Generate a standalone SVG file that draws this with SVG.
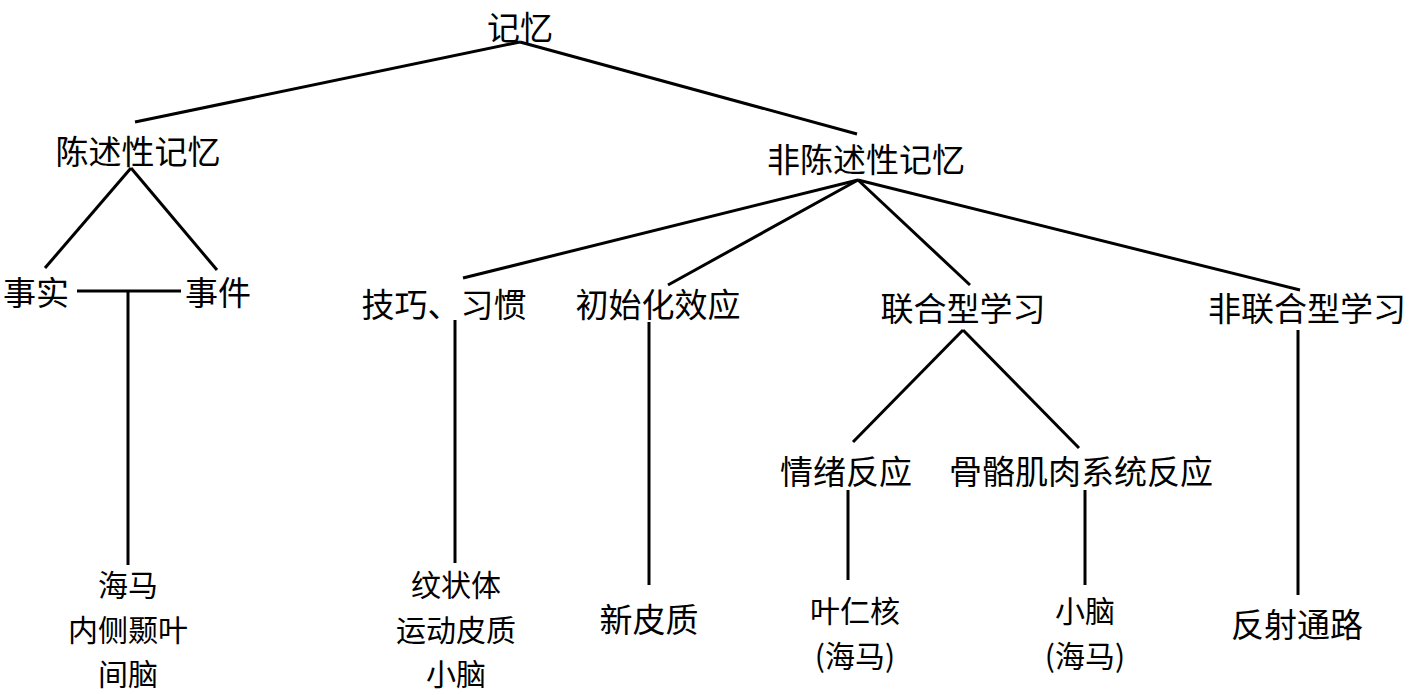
<svg xmlns="http://www.w3.org/2000/svg" width="1417" height="695" viewBox="0 0 1417 695">
<style>
text{font-family:"Noto Sans CJK SC","Liberation Serif",sans-serif;font-size:33px;fill:#000;text-anchor:middle;dominant-baseline:central}
text.m{font-size:30px}
.c line{stroke:#000;stroke-width:3;stroke-linecap:butt}
</style>
<rect width="1417" height="695" fill="#fff"/>
<g class="c" id="connectors">
<line x1="520" y1="42" x2="135" y2="122"/>
<line x1="520" y1="42" x2="857" y2="134"/>
<line x1="131" y1="168" x2="45" y2="268"/>
<line x1="131" y1="168" x2="217" y2="270"/>
<line x1="77" y1="291" x2="181" y2="291"/>
<line x1="128" y1="291" x2="128" y2="565"/>
<line x1="858" y1="180" x2="463" y2="278"/>
<line x1="858" y1="180" x2="668" y2="285"/>
<line x1="858" y1="180" x2="970" y2="285"/>
<line x1="858" y1="180" x2="1300" y2="290"/>
<line x1="455" y1="320" x2="455" y2="563"/>
<line x1="649" y1="322" x2="649" y2="585"/>
<line x1="1298" y1="330" x2="1298" y2="595"/>
<line x1="963" y1="330" x2="853" y2="442"/>
<line x1="963" y1="330" x2="1079" y2="448"/>
<line x1="848" y1="490" x2="848" y2="580"/>
<line x1="1085" y1="490" x2="1085" y2="585"/>
</g>
<g id="n-root"><text x="520" y="26">记忆</text></g>
<g id="n-decl"><text x="138" y="150">陈述性记忆</text></g>
<g id="n-nondecl"><text x="866" y="158">非陈述性记忆</text></g>
<g id="n-fact"><text x="36" y="291">事实</text></g>
<g id="n-event"><text x="218" y="291">事件</text></g>
<g id="n-skill"><text x="444" y="303">技巧、习惯</text></g>
<g id="n-priming"><text x="658" y="303">初始化效应</text></g>
<g id="n-assoc"><text x="963" y="307">联合型学习</text></g>
<g id="n-nonassoc"><text x="1307" y="307">非联合型学习</text></g>
<g id="n-emo"><text x="846" y="470">情绪反应</text></g>
<g id="n-skel"><text x="1081" y="470">骨骼肌肉系统反应</text></g>
<g id="n-l1"><text class="m" x="128" y="583">海马</text><text class="m" x="128" y="628">内侧颞叶</text><text class="m" x="128" y="672">间脑</text></g>
<g id="n-l2"><text class="m" x="456" y="583">纹状体</text><text class="m" x="456" y="628">运动皮质</text><text class="m" x="456" y="672">小脑</text></g>
<g id="n-l3"><text x="649" y="618">新皮质</text></g>
<g id="n-l4"><text class="m" x="855" y="609">叶仁核</text><text class="m" x="855" y="654">(海马)</text></g>
<g id="n-l5"><text class="m" x="1085" y="609">小脑</text><text class="m" x="1085" y="654">(海马)</text></g>
<g id="n-l6"><text x="1297" y="623">反射通路</text></g>
</svg>
